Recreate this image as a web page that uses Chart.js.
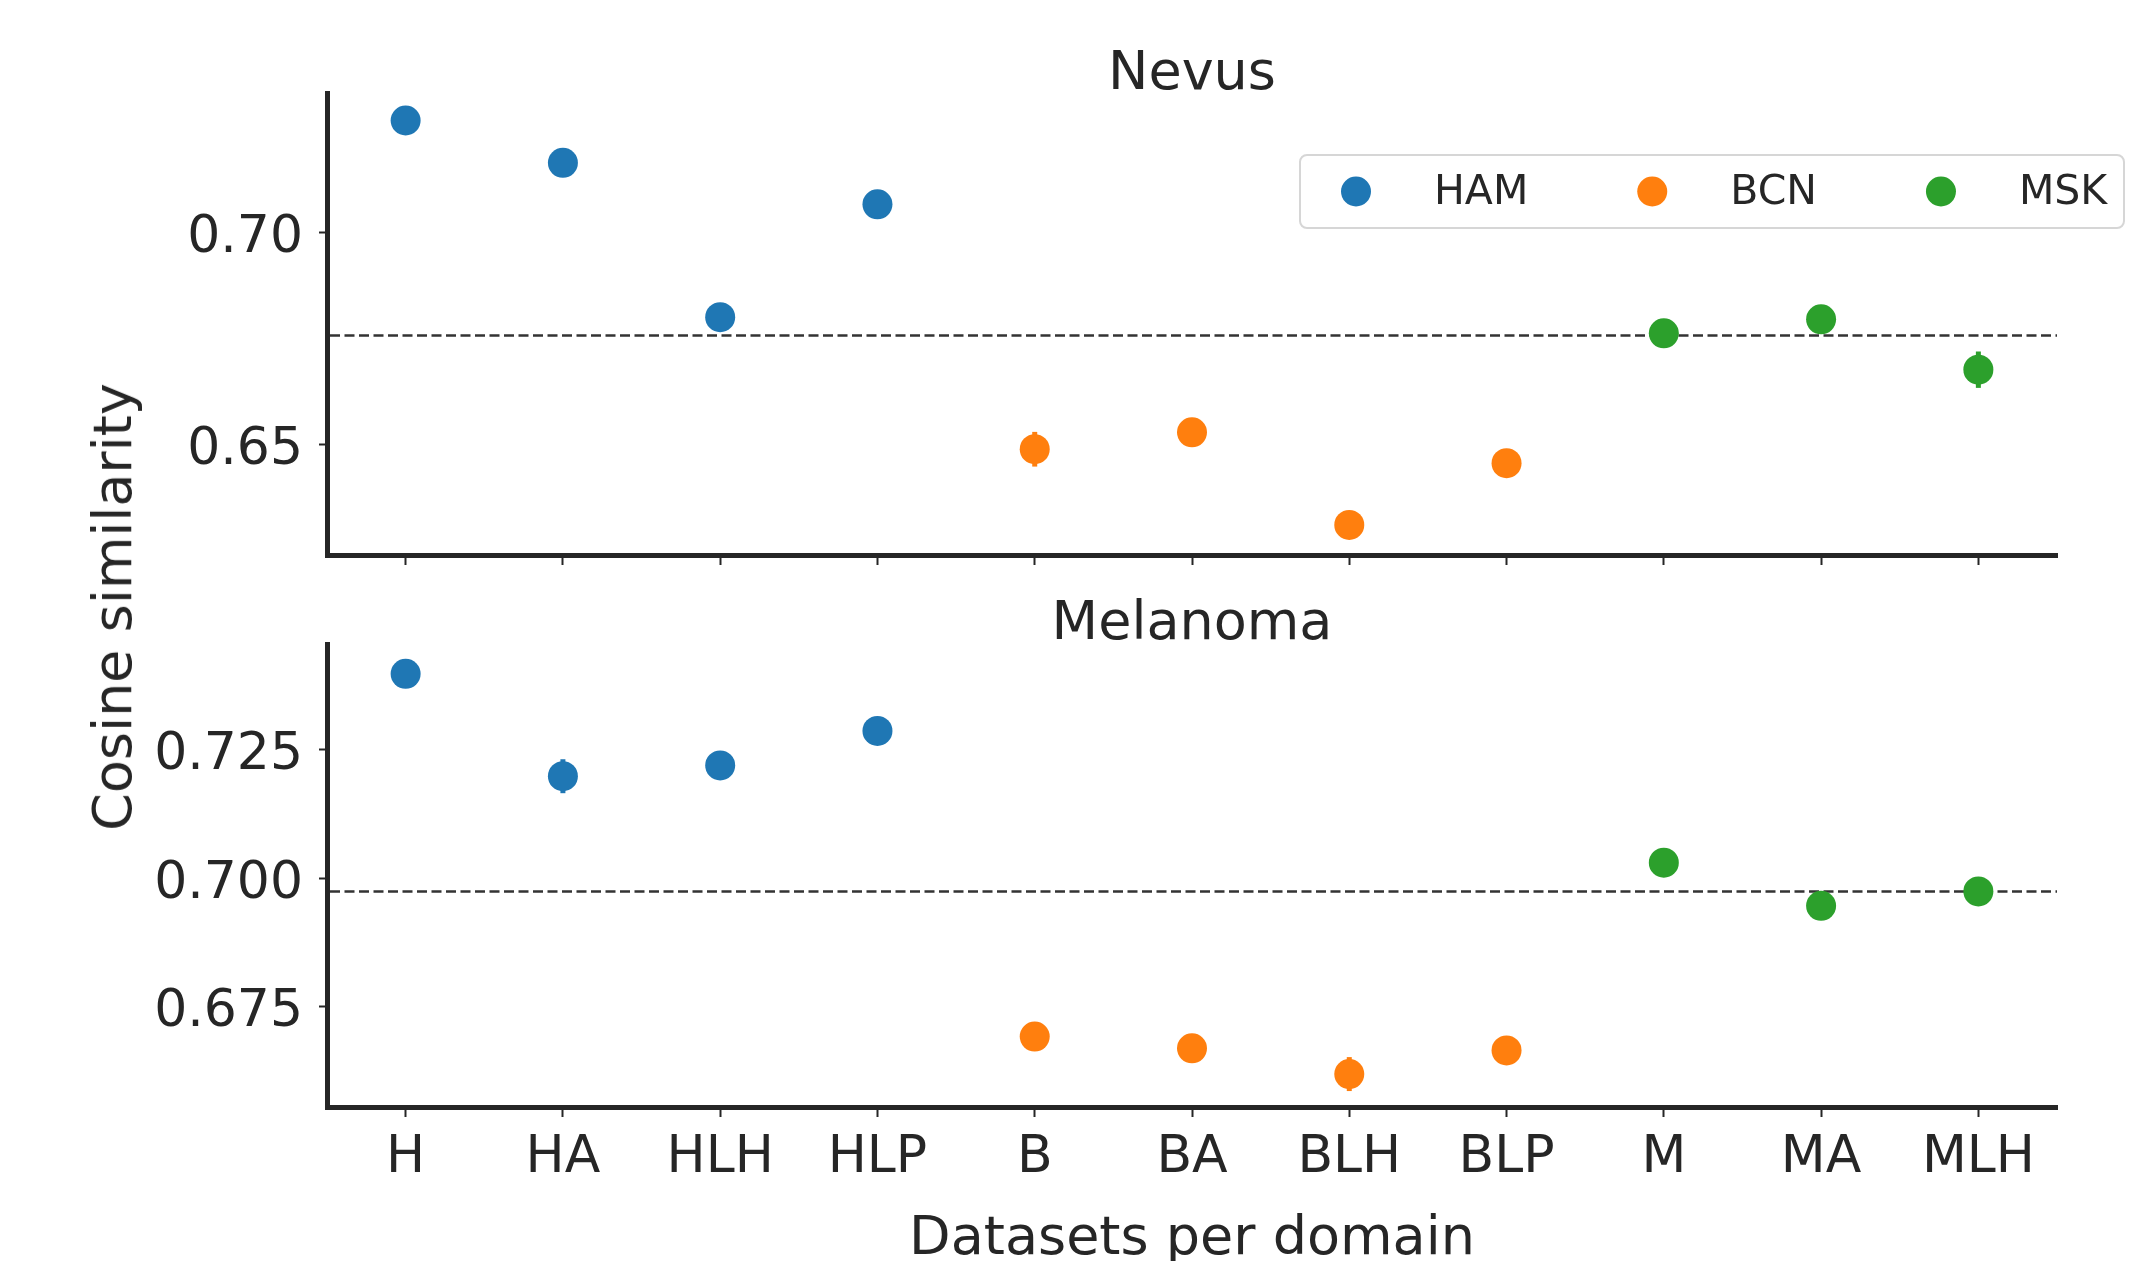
<!DOCTYPE html>
<html>
<head>
<meta charset="utf-8">
<script src="https://cdn.jsdelivr.net/npm/chart.js@4.4.1/dist/chart.umd.min.js"></script>
<style>
  html, body { margin: 0; padding: 0; background: #fff; }
  body { width: 2139px; height: 1261px; position: relative; overflow: hidden; font-family: 'DejaVu Sans', sans-serif; }
  #nevusWrap { position: absolute; left: 0; top: 0; width: 2139px; height: 608px; }
  #melanomaWrap { position: absolute; left: 0; top: 560px; width: 2139px; height: 701px; }
  #yTitle { position: absolute; left: 113px; top: 607px; transform: translate(-50%, -50%) rotate(-90deg);
            font-size: 54px; line-height: 1; color: #262626; white-space: nowrap; }
</style>
</head>
<body>
<div id="nevusWrap"><canvas id="nevusChart"></canvas></div>
<div id="melanomaWrap"><canvas id="melanomaChart"></canvas></div>
<div id="yTitle">Cosine similarity</div>
<script>
// data
const categories = ['H', 'HA', 'HLH', 'HLP', 'B', 'BA', 'BLH', 'BLP', 'M', 'MA', 'MLH'];
const domains = ['HAM', 'BCN', 'MSK'];
const domainOf = [0, 0, 0, 0, 1, 1, 1, 1, 2, 2, 2];
const domainColors = ['#1f77b4', '#ff7f0e', '#2ca02c'];

const nevusMeans = [0.7265, 0.7165, 0.6800, 0.7067, 0.6488, 0.6528, 0.6309, 0.6455, 0.6762, 0.6795, 0.6676];
const nevusErr   = [0.0020, 0.0020, 0.0015, 0.0020, 0.0041, 0.0025, 0.0020, 0.0020, 0.0020, 0.0020, 0.0043];
const nevusRef = 0.6757;
const nevusTicks = [0.65, 0.70];
const nevusTickLabels = ['0.65', '0.70'];

const melanomaMeans = [0.7397, 0.7198, 0.7219, 0.7286, 0.6692, 0.6669, 0.6619, 0.6665, 0.7030, 0.6946, 0.6974];
const melanomaErr   = [0.0015, 0.0033, 0.0015, 0.0015, 0.0020, 0.0020, 0.0033, 0.0015, 0.0015, 0.0015, 0.0020];
const melanomaRef = 0.6974;
const melanomaTicks = [0.675, 0.700, 0.725];
const melanomaTickLabels = ['0.675', '0.700', '0.725'];

const INK = '#262626';
Chart.defaults.font.family = "'DejaVu Sans', sans-serif";
Chart.defaults.color = INK;

function makeDatasets(means) {
    return domains.map((name, d) => ({
        label: name,
        data: means.map((v, i) => domainOf[i] === d ? v : null),
        showLine: false,
        pointRadius: 15,
        pointHoverRadius: 15,
        pointBorderWidth: 0,
        pointBackgroundColor: domainColors[d],
        borderColor: domainColors[d],
        backgroundColor: domainColors[d]
    }));
}

// dashed reference line + error bars, drawn under the markers
function underlayPlugin(means, errs, ref) {
    return {
        id: 'underlay',
        beforeDatasetsDraw(chart) {
            const ctx = chart.ctx;
            const x = chart.scales.x, y = chart.scales.y;
            const area = chart.chartArea;
            ctx.save();
            ctx.strokeStyle = '#333333';
            ctx.lineWidth = 2.5;
            ctx.setLineDash([10, 4.5]);
            const yr = y.getPixelForValue(ref);
            ctx.beginPath();
            ctx.moveTo(area.left + 3, yr);
            ctx.lineTo(area.right, yr);
            ctx.stroke();
            ctx.setLineDash([]);
            ctx.lineWidth = 5;
            means.forEach((m, i) => {
                const px = x.getPixelForValue(i);
                ctx.strokeStyle = domainColors[domainOf[i]];
                ctx.beginPath();
                ctx.moveTo(px, y.getPixelForValue(m - errs[i]));
                ctx.lineTo(px, y.getPixelForValue(m + errs[i]));
                ctx.stroke();
            });
            ctx.restore();
        }
    };
}

const legendPlugin = {
    id: 'boxLegend',
    afterDraw(chart) {
        const ctx = chart.ctx;
        const area = chart.chartArea;
        const left = area.left + 973, right = area.right + 67;
        const top = area.top + 62, h = 73;
        const cy = top + h / 2;
        ctx.save();
        ctx.font = "41px 'DejaVu Sans', sans-serif";
        ctx.fillStyle = 'rgba(255,255,255,0.8)';
        ctx.strokeStyle = '#d6d6d6';
        ctx.lineWidth = 2;
        ctx.beginPath();
        ctx.roundRect(left, top, right - left, h, 7);
        ctx.fill();
        ctx.stroke();
        ctx.textBaseline = 'middle';
        let mx = left + 56;
        chart.data.datasets.forEach(ds => {
            ctx.fillStyle = ds.pointBackgroundColor;
            ctx.beginPath();
            ctx.arc(mx, cy, 15, 0, Math.PI * 2);
            ctx.fill();
            const tx = mx + 78;
            ctx.fillStyle = INK;
            ctx.fillText(ds.label, tx, cy + 2);
            mx = tx + ctx.measureText(ds.label).width + 124;
        });
        ctx.restore();
    }
};

function makePanel(canvasId, cfg) {
    return new Chart(document.getElementById(canvasId), {
        type: 'line',
        data: {
            labels: categories,
            datasets: makeDatasets(cfg.means)
        },
        options: {
            responsive: true,
            maintainAspectRatio: false,
            animation: false,
            events: [],
            layout: {padding: {left: 0, right: 82, top: 0, bottom: cfg.bottomPad}},
            plugins: {
                legend: {display: false},
                tooltip: {enabled: false},
                title: {
                    display: true,
                    text: cfg.title,
                    fullSize: false,
                    color: INK,
                    font: {size: 54, weight: 'normal', lineHeight: 0.6},
                    padding: cfg.titlePad
                }
            },
            scales: {
                x: {
                    type: 'category',
                    offset: true,
                    grid: {offset: false, drawOnChartArea: false, drawTicks: true,
                           tickLength: 10, tickWidth: 2, tickColor: INK},
                    border: {display: true, color: INK, width: 5},
                    ticks: {display: cfg.showX, color: INK, font: {size: 52}, padding: 10,
                            maxRotation: 0, autoSkip: false},
                    title: {display: cfg.showX, text: 'Datasets per domain', color: INK,
                            font: {size: 54, lineHeight: 0.78}, padding: {top: 0, bottom: 0}},
                    afterFit: s => { s.height = cfg.xHeight; }
                },
                y: {
                    type: 'linear',
                    min: cfg.yMin,
                    max: cfg.yMax,
                    afterBuildTicks: s => { s.ticks = cfg.ticks.map(v => ({value: v})); },
                    grid: {drawOnChartArea: false, drawTicks: true, tickLength: 8, tickWidth: 2, tickColor: INK},
                    border: {display: true, color: INK, width: 5},
                    // blank first line nudges the label down onto the tick like matplotlib
                    ticks: {color: INK, font: {size: 52, lineHeight: 0.23}, padding: 16,
                            callback: (v, i) => ['', cfg.tickLabels[i]]},
                    afterFit: s => { s.width = 327; }
                }
            }
        },
        plugins: cfg.plugins
    });
}

makePanel('nevusChart', {
    title: 'Nevus',
    means: nevusMeans,
    titlePad: {top: 58.8, bottom: 1.8},
    bottomPad: 43,
    xHeight: 10,
    showX: false,
    yMin: 0.6238, yMax: 0.7330,
    ticks: nevusTicks, tickLabels: nevusTickLabels,
    plugins: [underlayPlugin(nevusMeans, nevusErr, nevusRef), legendPlugin]
});

makePanel('melanomaChart', {
    title: 'Melanoma',
    means: melanomaMeans,
    titlePad: {top: 48.5, bottom: 3.1},
    bottomPad: 0,
    xHeight: 154,
    showX: true,
    yMin: 0.6555, yMax: 0.7455,
    ticks: melanomaTicks, tickLabels: melanomaTickLabels,
    plugins: [underlayPlugin(melanomaMeans, melanomaErr, melanomaRef)]
});
</script>
</body>
</html>
